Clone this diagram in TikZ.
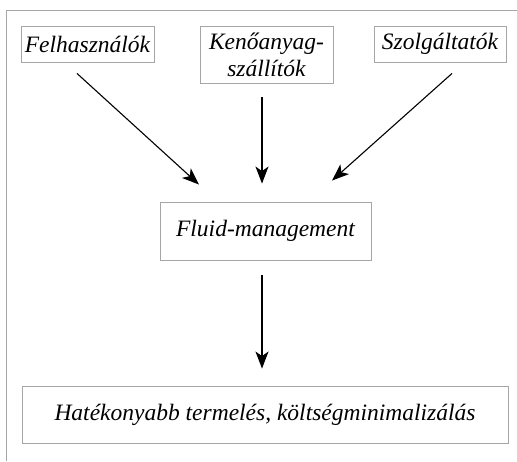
\documentclass[tikz,border=0pt]{standalone}
\usepackage{fontspec}
\setmainfont{Liberation Serif}
\usetikzlibrary{arrows.meta}
\tikzset{
	box/.style={draw=black!35, line width=0.9pt, inner sep=0pt, font=\fontsize{23.5}{27}\selectfont\itshape, align=center},
	flow/.style={line width=1.1pt, -{Stealth[length=17pt, width=13pt, inset=4.5pt]}}
}
\begin{document}
\begin{tikzpicture}[x=1pt, y=-1pt]
	\useasboundingbox (0, 0) rectangle (517, 461);
	\draw[black!35, line width=1pt] (517, 10) -- (6, 10) -- (6, 461);
	\node[box, minimum width=133pt, minimum height=36pt] (users) at (87.5, 44) {Felhasználók};
	\node[box, minimum width=133pt, minimum height=57pt] (lube) at (266.5, 54.5) {Kenőanyag-\\szállítók};
	\node[box, minimum width=132pt, minimum height=36pt] (service) at (440, 44) {Szolgáltatók};
	\node[box, minimum width=211pt, minimum height=58pt] (fluid) at (265.5, 231) {Fluid-management};
	\node[box, minimum width=486pt, minimum height=57pt] (result) at (265, 414.5) {Hatékonyabb termelés, költségminimalizálás};
	\draw[flow] ([xshift=-10.5pt, yshift=-11pt]users.south) -- ([xshift=-66.5pt, yshift=17pt]fluid.north);
	\draw[flow] ([xshift=-4.5pt, yshift=-14pt]lube.south) -- ([xshift=-3.5pt, yshift=18pt]fluid.north);
	\draw[flow] ([xshift=12pt, yshift=-11pt]service.south) -- ([xshift=66.5pt, yshift=21pt]fluid.north);
	\draw[flow] ([xshift=-3.5pt, yshift=-15pt]fluid.south) -- ([xshift=-3pt, yshift=17pt]result.north);
\end{tikzpicture}
\end{document}
